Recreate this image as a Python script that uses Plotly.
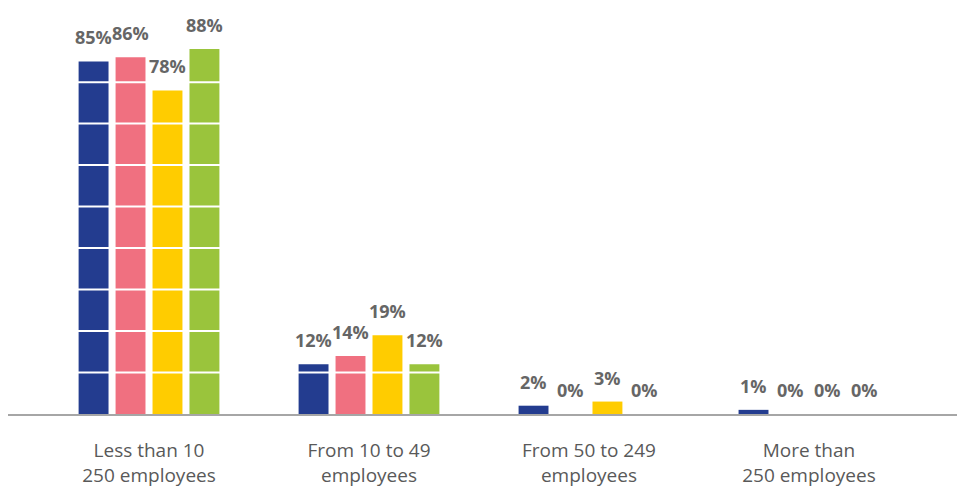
import plotly.graph_objects as go

# Company size categories and share of respondents per series (%)
categories = ["Less than 10<br>250 employees", "From 10 to 49<br>employees",
              "From 50 to 249<br>employees", "More than<br>250 employees"]
series_names = ["Series 1", "Series 2", "Series 3", "Series 4"]
series_values = [
    [85, 12, 2, 1],
    [86, 14, 0, 0],
    [78, 19, 3, 0],
    [88, 12, 0, 0],
]
series_colors = ["#233C8F", "#F07080", "#FFCC00", "#9AC43C"]
grid_values = [10, 20, 30, 40, 50, 60, 70, 80]

slot = 0.168      # width reserved per bar inside a group (category units)
bar_w = 0.136     # drawn bar width

fig = go.Figure()
n = len(series_values)
for i, (name, vals, col) in enumerate(zip(series_names, series_values, series_colors)):
    off = (i - (n - 1) / 2) * slot
    fig.add_trace(go.Bar(
        x=list(range(len(categories))), y=vals, name=name,
        marker=dict(color=col, line=dict(width=0)),
        width=bar_w, offset=off - bar_w / 2,
        hoverinfo="skip",
    ))
    for j, v in enumerate(vals):
        fig.add_annotation(
            x=j + off, y=v, xref="x", yref="y", text=f"<b>{v}%</b>",
            showarrow=False, yanchor="bottom", yshift=10,
            font=dict(family="Open Sans", size=18, color="#666666"),
        )

# White grid lines drawn on top of the bars
for g in grid_values:
    fig.add_shape(type="line", xref="paper", yref="y", x0=0, x1=1, y0=g, y1=g,
                  line=dict(color="white", width=2), layer="above")

fig.update_layout(
    width=957, height=487,
    margin=dict(l=8, r=0, t=0, b=73),
    paper_bgcolor="white", plot_bgcolor="white",
    showlegend=False,
    barmode="overlay",
    xaxis=dict(
        range=[-0.641, 3.673], tickmode="array",
        tickvals=list(range(len(categories))), ticktext=categories,
        showgrid=False, zeroline=False,
        showline=True, linecolor="#A6A6A6", linewidth=2,
        ticks="outside", ticklen=18, tickcolor="rgba(0,0,0,0)",
        tickfont=dict(family="Open Sans", size=19, color="#595959"),
    ),
    yaxis=dict(range=[0, 99.8], showgrid=False, zeroline=False,
               showticklabels=False, showline=False),
)

fig.write_html("out.html")
